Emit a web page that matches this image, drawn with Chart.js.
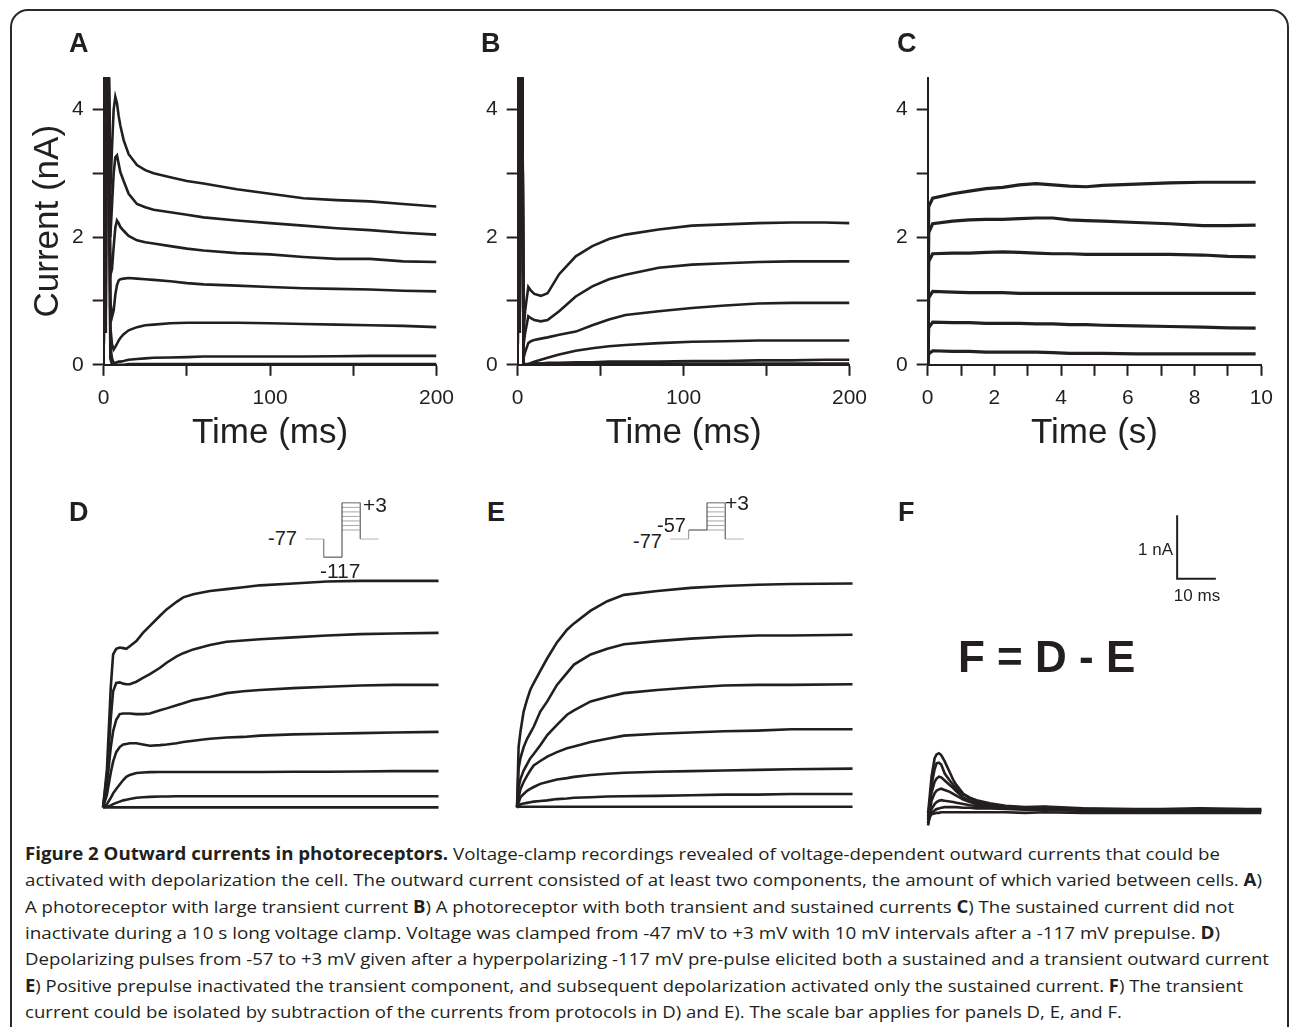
<!DOCTYPE html>
<html><head><meta charset="utf-8">
<script src="https://cdn.jsdelivr.net/npm/chart.js@4.4.1/dist/chart.umd.min.js"></script>
<style>
html,body{margin:0;padding:0;background:#fff;}
body{width:1290px;height:1027px;position:relative;overflow:hidden;}
.wrap{position:absolute;}
.wrap canvas{display:block;}
.txt{position:absolute;white-space:nowrap;color:#231f20;}
#frame{position:absolute;left:10px;top:9px;width:1279px;height:1200px;border:2px solid #2a2a2a;border-radius:18px;box-sizing:border-box;}
</style></head><body>
<div id="frame"></div>
<div id="stage"></div>
<script>
// ---------- DATA ----------
// Panel A: time (ms) and current (nA) of 7 traces
const tA = [0, 0.6, 1.3, 2.0, 2.6, 4, 5, 6, 7, 8, 9, 10, 12, 15, 20, 25, 30, 40, 50, 60, 80, 100, 120, 140, 160, 180, 200];
const A1 = [0, 6, 0.5, 6, 6, 2.7, 3.4, 4.0, 4.2, 4.1, 3.9, 3.75, 3.52, 3.3, 3.13, 3.05, 3.0, 2.94, 2.88, 2.84, 2.75, 2.68, 2.61, 2.58, 2.56, 2.52, 2.48];
const A2 = [0, 6, 1.3, 6, 6, 2.0, 2.5, 3.0, 3.25, 3.28, 3.15, 3.02, 2.88, 2.68, 2.52, 2.47, 2.43, 2.39, 2.35, 2.31, 2.26, 2.22, 2.18, 2.14, 2.11, 2.07, 2.04];
const A3 = [0, 6, 2.1, 6, 6, 1.4, 1.5, 1.85, 2.15, 2.26, 2.22, 2.16, 2.1, 2.02, 1.95, 1.92, 1.9, 1.86, 1.82, 1.79, 1.75, 1.73, 1.69, 1.66, 1.66, 1.62, 1.61];
const A4 = [0, 6, 2.9, 6, 6, 1.0, 0.75, 0.85, 1.1, 1.25, 1.32, 1.34, 1.35, 1.36, 1.35, 1.34, 1.33, 1.31, 1.28, 1.26, 1.24, 1.22, 1.20, 1.19, 1.18, 1.16, 1.15];
const A5 = [0, 6, 3.7, 6, 6, 0.6, 0.32, 0.24, 0.28, 0.33, 0.38, 0.42, 0.48, 0.54, 0.59, 0.62, 0.63, 0.65, 0.66, 0.66, 0.66, 0.65, 0.64, 0.63, 0.62, 0.61, 0.59];
const A6 = [0, 6, 0.9, 6, 6, 0.3, 0.1, 0.03, 0.03, 0.04, 0.05, 0.05, 0.06, 0.08, 0.09, 0.1, 0.11, 0.115, 0.12, 0.13, 0.13, 0.13, 0.13, 0.135, 0.14, 0.14, 0.14];
const A7 = [0, 6, 1.7, 6, 6, 0.1, 0.0, -0.02, 0.0, 0.0, 0.0, 0.0, 0.0, 0.01, 0.01, 0.01, 0.01, 0.01, 0.01, 0.01, 0.01, 0.01, 0.01, 0.01, 0.01, 0.01, 0.01];

// Panel B
const tB = [0, 0.6, 1.3, 2.0, 2.6, 3.5, 4.5, 6.4, 8, 10, 14, 18, 25, 35, 45, 55, 65, 85, 105, 125, 145, 165, 185, 200];
const B1 = [0, 6, 0.5, 6, 6, 0.5, 0.85, 1.22, 1.16, 1.11, 1.08, 1.12, 1.42, 1.70, 1.86, 1.97, 2.04, 2.12, 2.18, 2.20, 2.22, 2.23, 2.23, 2.22];
const B2 = [0, 6, 1.4, 6, 6, 0.3, 0.5, 0.76, 0.73, 0.70, 0.68, 0.70, 0.84, 1.07, 1.23, 1.34, 1.41, 1.52, 1.57, 1.59, 1.61, 1.62, 1.62, 1.62];
const B3 = [0, 6, 2.3, 6, 6, 0.1, 0.2, 0.34, 0.37, 0.39, 0.41, 0.43, 0.47, 0.52, 0.62, 0.71, 0.78, 0.84, 0.89, 0.93, 0.96, 0.97, 0.97, 0.97];
const B4 = [0, 6, 3.2, 6, 6, 0.0, 0.0, 0.01, 0.03, 0.05, 0.08, 0.11, 0.16, 0.22, 0.26, 0.29, 0.31, 0.34, 0.36, 0.37, 0.38, 0.38, 0.38, 0.38];
const B5 = [0, 6, 0.9, 6, 6, 0.0, 0.0, 0.0, 0.01, 0.02, 0.02, 0.03, 0.03, 0.04, 0.04, 0.05, 0.05, 0.05, 0.06, 0.06, 0.07, 0.07, 0.08, 0.08];
const B6 = [0, 6, 1.9, 6, 6, 0.0, 0.01, 0.01, 0.01, 0.02, 0.02, 0.02, 0.02, 0.02, 0.02, 0.02, 0.02, 0.02, 0.02, 0.02, 0.02, 0.02, 0.02, 0.02];

// Panel C: time (s)
const tC = [0, 0.03, 0.15, 0.75, 1.25, 1.75, 2.25, 2.75, 3.25, 3.75, 4.25, 4.75, 5.25, 6.25, 7.25, 8.25, 9.0, 9.83];
const C1 = [0, 2.48, 2.61, 2.68, 2.72, 2.76, 2.78, 2.82, 2.84, 2.82, 2.80, 2.79, 2.81, 2.83, 2.85, 2.86, 2.86, 2.86];
const C2 = [0, 2.07, 2.21, 2.25, 2.27, 2.28, 2.28, 2.29, 2.30, 2.30, 2.27, 2.26, 2.25, 2.23, 2.21, 2.18, 2.18, 2.19];
const C3 = [0, 1.62, 1.74, 1.75, 1.75, 1.76, 1.77, 1.76, 1.75, 1.74, 1.74, 1.73, 1.73, 1.73, 1.73, 1.72, 1.70, 1.69];
const C4 = [0, 1.05, 1.15, 1.14, 1.13, 1.13, 1.13, 1.12, 1.12, 1.12, 1.12, 1.12, 1.12, 1.12, 1.12, 1.12, 1.12, 1.12];
const C5 = [0, 0.58, 0.67, 0.66, 0.66, 0.65, 0.65, 0.65, 0.64, 0.64, 0.63, 0.63, 0.62, 0.61, 0.60, 0.59, 0.58, 0.575];
const C6 = [0, 0.17, 0.22, 0.21, 0.21, 0.20, 0.20, 0.20, 0.20, 0.19, 0.18, 0.18, 0.18, 0.17, 0.17, 0.17, 0.17, 0.17];

// Panel D (ms, nA)
const tD = [0, 1, 2, 2.6, 3.4, 4.3, 5.2, 6.0, 6.9, 8.6, 10.3, 12.1, 14.7, 16.4, 19.0, 20.7, 23.3, 25.9, 27.6, 31.9, 36.2, 40.5, 49.1, 57.8, 66.4, 75.0, 86.6];
const D1 = [0, 0.6, 1.9, 2.41, 2.5, 2.52, 2.51, 2.5, 2.54, 2.62, 2.75, 2.86, 3.02, 3.12, 3.24, 3.31, 3.36, 3.39, 3.41, 3.44, 3.47, 3.50, 3.53, 3.56, 3.57, 3.57, 3.57];
const D2 = [0, 0.5, 1.4, 1.83, 1.96, 1.97, 1.95, 1.94, 1.94, 1.98, 2.04, 2.10, 2.20, 2.28, 2.38, 2.43, 2.49, 2.53, 2.56, 2.61, 2.63, 2.65, 2.68, 2.71, 2.73, 2.74, 2.75];
const D3 = [0, 0.35, 0.95, 1.2, 1.38, 1.47, 1.48, 1.48, 1.48, 1.47, 1.47, 1.48, 1.53, 1.56, 1.61, 1.64, 1.69, 1.72, 1.74, 1.80, 1.83, 1.85, 1.88, 1.90, 1.92, 1.93, 1.93];
const D4 = [0, 0.2, 0.55, 0.72, 0.87, 0.95, 0.99, 1.0, 1.01, 1.01, 0.99, 0.97, 0.98, 0.99, 1.01, 1.03, 1.05, 1.07, 1.08, 1.10, 1.11, 1.13, 1.15, 1.16, 1.17, 1.18, 1.19];
const D5 = [0, 0.05, 0.15, 0.22, 0.29, 0.36, 0.43, 0.48, 0.51, 0.54, 0.55, 0.555, 0.556, 0.556, 0.556, 0.556, 0.556, 0.556, 0.556, 0.556, 0.556, 0.556, 0.56, 0.56, 0.565, 0.57, 0.57];
const D6 = [0, 0.01, 0.03, 0.05, 0.07, 0.09, 0.11, 0.12, 0.13, 0.15, 0.16, 0.165, 0.17, 0.17, 0.175, 0.175, 0.175, 0.175, 0.175, 0.175, 0.175, 0.175, 0.175, 0.175, 0.175, 0.175, 0.175];
const D7 = [0, 0, 0, 0, 0, 0, 0, 0, 0, 0, 0, 0, 0, 0, 0, 0, 0, 0, 0, 0, 0, 0, 0, 0, 0, 0, 0];

// Panel E
const tE = [0, 0.4, 0.9, 1.7, 2.6, 3.4, 4.3, 6.0, 7.8, 10.3, 12.9, 14.7, 19.0, 23.3, 27.6, 36.2, 44.8, 53.4, 62.1, 70.7, 86.6];
const E1 = [0, 0.95, 1.2, 1.51, 1.7, 1.85, 1.96, 2.15, 2.35, 2.6, 2.8, 2.9, 3.1, 3.25, 3.35, 3.41, 3.46, 3.49, 3.51, 3.52, 3.53];
const E2 = [0, 0.61, 0.78, 0.95, 1.08, 1.17, 1.27, 1.51, 1.67, 1.93, 2.12, 2.25, 2.41, 2.5, 2.57, 2.62, 2.66, 2.69, 2.71, 2.71, 2.72];
const E3 = [0, 0.32, 0.45, 0.58, 0.68, 0.77, 0.84, 0.98, 1.14, 1.3, 1.46, 1.53, 1.67, 1.74, 1.80, 1.85, 1.89, 1.92, 1.93, 1.93, 1.94];
const E4 = [0, 0.15, 0.29, 0.4, 0.5, 0.58, 0.66, 0.73, 0.8, 0.87, 0.93, 0.96, 1.03, 1.08, 1.13, 1.16, 1.18, 1.20, 1.21, 1.23, 1.23];
const E5 = [0, 0.08, 0.16, 0.21, 0.26, 0.29, 0.32, 0.37, 0.4, 0.44, 0.46, 0.48, 0.51, 0.53, 0.545, 0.56, 0.57, 0.58, 0.59, 0.60, 0.61];
const E6 = [0, 0.02, 0.05, 0.06, 0.07, 0.08, 0.09, 0.1, 0.11, 0.13, 0.14, 0.15, 0.16, 0.17, 0.175, 0.18, 0.19, 0.2, 0.2, 0.21, 0.21];
const E7 = [0, 0.01, 0.01, 0.01, 0.01, 0.01, 0.01, 0.01, 0.01, 0.01, 0.01, 0.01, 0.01, 0.01, 0.01, 0.01, 0.01, 0.01, 0.01, 0.01, 0.01];

// Panel F (D - E)
const tF = [0, 0.4, 0.9, 1.7, 2.2, 2.8, 3.4, 4.3, 5.6, 6.5, 7.3, 9.1, 10.8, 12.5, 15.9, 20, 25, 30, 40, 50, 60, 70, 80, 86];
const F1 = [-0.05, 0.2, 0.53, 0.82, 0.88, 0.90, 0.87, 0.77, 0.6, 0.48, 0.4, 0.26, 0.2, 0.16, 0.11, 0.07, 0.05, 0.06, 0.03, 0.02, 0.02, 0.03, 0.02, 0.02];
const F2 = [-0.1, 0.1, 0.4, 0.65, 0.74, 0.75, 0.72, 0.58, 0.47, 0.4, 0.34, 0.25, 0.19, 0.15, 0.1, 0.06, 0.04, 0.05, 0.02, 0.02, 0.01, 0.02, 0.02, 0.01];
const F3 = [-0.15, 0.05, 0.28, 0.45, 0.5, 0.53, 0.52, 0.47, 0.4, 0.35, 0.3, 0.2, 0.15, 0.12, 0.08, 0.05, 0.04, 0.04, 0.02, 0.01, 0.01, 0.02, 0.01, 0.01];
const F4 = [-0.2, -0.05, 0.15, 0.27, 0.31, 0.33, 0.34, 0.32, 0.29, 0.26, 0.23, 0.17, 0.13, 0.1, 0.07, 0.04, 0.03, 0.03, 0.02, 0.0, 0.0, 0.01, 0.0, 0.0];
const F5 = [-0.24, -0.1, 0.02, 0.1, 0.13, 0.15, 0.16, 0.15, 0.14, 0.13, 0.12, 0.1, 0.08, 0.07, 0.05, 0.03, 0.02, 0.02, 0.0, -0.01, -0.01, 0.0, -0.01, -0.01];
const F6 = [-0.2, -0.12, -0.05, 0.0, 0.02, 0.03, 0.04, 0.05, 0.05, 0.05, 0.05, 0.04, 0.04, 0.03, 0.03, 0.02, 0.01, 0.01, -0.01, -0.02, -0.02, -0.01, -0.02, -0.02];
const F7 = [-0.1, -0.08, -0.06, -0.05, -0.04, -0.04, -0.03, -0.03, -0.03, -0.03, -0.03, -0.03, -0.03, -0.03, -0.03, -0.03, -0.04, -0.03, -0.04, -0.04, -0.04, -0.04, -0.04, -0.04];

// Scale bar (applies to D, E, F)
const SCALE_BAR_MS = 10;
const SCALE_BAR_NA = 1;
const scaleBarAnchor = [64.3, 3.65]; // ms, nA (corner in panel F)

// Voltage protocols (mV)
const stepLevels = [-57, -47, -37, -27, -17, -7, 3];
const holdingPotential = -77;
const prepulseD = -117;
const prepulseE = -57;
const protocolSegments = [0, 1, 2, 3, 4];

// Tick labels
const xTicksMs = [0, 100, 200];
const xTicksS = [0, 2, 4, 6, 8, 10];
const yTicksNa = [0, 2, 4];

// ---------- RENDER ----------
const FONT = '"Liberation Sans", Arial, Helvetica, sans-serif';
const CAPFONT = '"Open Sans", "Noto Sans", sans-serif';
const INK = '#231f20';
Chart.defaults.font.family = FONT;
Chart.defaults.color = INK;

function pts(t, v) { return t.map((x, i) => ({x: x, y: v[i]})); }
function traces(t, series, w) {
  return series.map(v => ({data: pts(t, v), borderColor: INK, borderWidth: w, pointRadius: 0, tension: 0, fill: false}));
}

function makeChart(area, config) {
  const wrap = document.createElement('div'); wrap.className = 'wrap';
  const cv = document.createElement('canvas');
  cv.width = Math.round(area.w + 160); cv.height = Math.round(area.h + 160);
  wrap.appendChild(cv); document.getElementById('stage').appendChild(wrap);
  config.options = Object.assign({
    responsive: false, maintainAspectRatio: false, animation: false, events: [],
    layout: {padding: 0},
    plugins: {legend: {display: false}, tooltip: {enabled: false}, title: {display: false}}
  }, config.options);
  const chart = new Chart(cv, config);
  for (let k = 0; k < 3; k++) {
    const ca = chart.chartArea;
    const mL = ca.left, mT = ca.top, mR = chart.width - ca.right, mB = chart.height - ca.bottom;
    const W = Math.round(area.w + mL + mR), H = Math.round(area.h + mT + mB);
    if (W !== chart.width || H !== chart.height) chart.resize(W, H);
  }
  const ca = chart.chartArea;
  wrap.style.left = (area.x - ca.left) + 'px';
  wrap.style.top = (area.y - ca.top) + 'px';
  return chart;
}

function gridOpts() {
  return {display: true, drawOnChartArea: false, drawTicks: true, tickLength: 11, tickWidth: 2, tickColor: INK};
}
function axisScales(xMax, xStep, xLabels, xTitle, yTitle) {
  return {
    x: {type: 'linear', min: 0, max: xMax,
        grid: gridOpts(), border: {display: true, color: INK, width: 2},
        ticks: {stepSize: xStep, includeBounds: false, autoSkip: false, maxRotation: 0, color: INK,
                font: {family: FONT, size: 21}, padding: 10,
                callback: v => (xLabels.some(l => Math.abs(l - v) < 1e-6) ? String(v) : '')},
        title: {display: true, text: xTitle, color: INK, font: {family: FONT, size: 35}, padding: {top: -9, bottom: 0}}},
    y: {type: 'linear', min: 0, max: 4.5,
        grid: gridOpts(), border: {display: true, color: INK, width: 2},
        ticks: {stepSize: 1, includeBounds: false, autoSkip: false, color: INK,
                font: {family: FONT, size: 21}, padding: 9,
                callback: v => (yTicksNa.indexOf(v) >= 0 ? String(v) : '')},
        title: {display: !!yTitle, text: yTitle || '', color: INK, font: {family: FONT, size: 35}, padding: {top: 0, bottom: -6}}}
  };
}
function hiddenScales(x0, x1, y0, y1) {
  return {x: {type: 'linear', display: false, min: x0, max: x1}, y: {type: 'linear', display: false, min: y0, max: y1}};
}

// Top row panels (chart areas in page pixels)
makeChart({x: 104, y: 78, w: 333, h: 287}, {type: 'line',
  data: {datasets: traces(tA, [A1, A2, A3, A4, A5, A6, A7], 2.6)},
  options: {scales: axisScales(200, 50, xTicksMs, 'Time (ms)', 'Current (nA)')}});
makeChart({x: 518, y: 78, w: 332, h: 287}, {type: 'line',
  data: {datasets: traces(tB, [B1, B2, B3, B4, B5, B6], 2.6)},
  options: {scales: axisScales(200, 50, xTicksMs, 'Time (ms)', null)}});
makeChart({x: 928, y: 78, w: 334, h: 287}, {type: 'line',
  data: {datasets: traces(tC, [C1, C2, C3, C4, C5, C6], 3.2)},
  options: {scales: axisScales(10, 1, xTicksS, 'Time (s)', null)}});

// Bottom row: common scale 3.87 px/ms, 63.5 px/nA
const PXMS = 3.87, PXNA = 63.5;
function bottomArea(x0, y0, xmin, xmax, ymin, ymax) {
  return {x: x0 + xmin * PXMS, y: y0 - ymax * PXNA, w: (xmax - xmin) * PXMS, h: (ymax - ymin) * PXNA};
}
makeChart(bottomArea(103.3, 808, -2, 90, -0.4, 3.8), {type: 'line',
  data: {datasets: traces(tD, [D1, D2, D3, D4, D5, D6, D7], 2.6)},
  options: {scales: hiddenScales(-2, 90, -0.4, 3.8)}});
makeChart(bottomArea(516.7, 808, -2, 90, -0.4, 3.8), {type: 'line',
  data: {datasets: traces(tE, [E1, E2, E3, E4, E5, E6, E7], 2.6)},
  options: {scales: hiddenScales(-2, 90, -0.4, 3.8)}});
const scaleBarSet = {data: [
    {x: scaleBarAnchor[0], y: scaleBarAnchor[1] + SCALE_BAR_NA},
    {x: scaleBarAnchor[0], y: scaleBarAnchor[1]},
    {x: scaleBarAnchor[0] + SCALE_BAR_MS, y: scaleBarAnchor[1]}],
  borderColor: INK, borderWidth: 2, pointRadius: 0, tension: 0, fill: false, borderCapStyle: 'butt', borderJoinStyle: 'miter'};
makeChart(bottomArea(928.3, 810, -2, 90, -0.4, 4.9), {type: 'line',
  data: {datasets: traces(tF, [F1, F2, F3, F4, F5, F6, F7], 2.6).concat([scaleBarSet])},
  options: {scales: hiddenScales(-2, 90, -0.4, 4.9)}});

// Voltage protocol insets: 18.25 px per segment, 0.45 px per mV
const PXSEG = 18.25, PXMV = 0.45;
function protoArea(x0, yHold) {
  return {x: x0 - 0.1 * PXSEG, y: yHold - (6 - holdingPotential) * PXMV, w: 4.2 * PXSEG, h: 126 * PXMV};
}
function protoSets(pre) {
  const s = protocolSegments;
  const line = (d, c, w) => ({data: d, borderColor: c, borderWidth: w || 1, pointRadius: 0, tension: 0, fill: false});
  const sets = [];
  sets.push(line([{x: s[0], y: holdingPotential}, {x: s[1], y: holdingPotential}], '#b4b4b4'));
  sets.push(line([{x: s[1], y: holdingPotential}, {x: s[1], y: pre}], '#8c8c8c'));
  sets.push(line([{x: s[1], y: pre}, {x: s[2], y: pre}, {x: s[2], y: stepLevels[stepLevels.length - 1]}], '#3c3c3c'));
  stepLevels.forEach((L, i) => sets.push(line([{x: s[2], y: L}, {x: s[3], y: L}], i === stepLevels.length - 1 ? '#6a6a6a' : '#a8a8a8')));
  sets.push(line([{x: s[3], y: stepLevels[stepLevels.length - 1]}, {x: s[3], y: holdingPotential}], '#7a7a7a'));
  sets.push(line([{x: s[3], y: holdingPotential}, {x: s[4], y: holdingPotential}], '#b4b4b4'));
  return sets;
}
makeChart(protoArea(305, 539), {type: 'line', data: {datasets: protoSets(prepulseD)},
  options: {scales: hiddenScales(-0.1, 4.1, -120, 6)}});
makeChart(protoArea(670, 539), {type: 'line', data: {datasets: protoSets(prepulseE)},
  options: {scales: hiddenScales(-0.1, 4.1, -120, 6)}});

// ---------- TEXT ----------
const mctx = document.createElement('canvas').getContext('2d');
function addText(html, x, base, size, o) {
  o = o || {};
  const fam = o.family || FONT;
  const el = document.createElement('div'); el.className = 'txt';
  el.innerHTML = html;
  el.style.fontFamily = fam; el.style.fontSize = size + 'px'; el.style.lineHeight = size + 'px';
  el.style.fontWeight = o.bold ? 'bold' : 'normal';
  mctx.font = (o.bold ? 'bold ' : '') + size + 'px ' + fam;
  const m = mctx.measureText('Hg');
  const asc = m.fontBoundingBoxAscent, desc = m.fontBoundingBoxDescent;
  const fromTop = (size - (asc + desc)) / 2 + asc;
  el.style.top = (base - fromTop) + 'px';
  document.body.appendChild(el);
  const w = el.getBoundingClientRect().width;
  if (o.width) { el.style.left = x + 'px'; el.style.transformOrigin = '0 0'; el.style.transform = 'scaleX(' + (o.width / w) + ')'; }
  else if (o.align === 'right') el.style.left = (x - w) + 'px';
  else if (o.align === 'center') el.style.left = (x - w / 2) + 'px';
  else el.style.left = x + 'px';
  return el;
}
// panel letters
[['A', 69, 52], ['B', 481, 52], ['C', 897, 52], ['D', 69, 521], ['E', 487, 521], ['F', 898, 521]]
  .forEach(p => addText(p[0], p[1], p[2], 27, {bold: true}));
// protocol labels
addText('-77', 268, 545, 20); addText('+3', 363, 512, 21); addText('-117', 320, 578, 21);
addText('-77', 633, 548, 20); addText('-57', 657, 532, 20); addText('+3', 725, 510, 21);
// scale bar labels
addText('1 nA', 1173, 555, 17, {align: 'right'});
addText('10 ms', 1197, 601, 17, {align: 'center'});
addText('F = D - E', 958, 672, 44, {bold: true});

// caption
const captionLines = [
  ['<b>Figure 2 Outward currents in photoreceptors.</b> Voltage-clamp recordings revealed of voltage-dependent outward currents that could be', 1220],
  ['activated with depolarization the cell. The outward current consisted of at least two components, the amount of which varied between cells. <b>A</b>)', 1262],
  ['A photoreceptor with large transient current <b>B</b>) A photoreceptor with both transient and sustained currents <b>C</b>) The sustained current did not', 1234],
  ['inactivate during a 10 s long voltage clamp. Voltage was clamped from -47 mV to +3 mV with 10 mV intervals after a -117 mV prepulse. <b>D</b>)', 1220],
  ['Depolarizing pulses from -57 to +3 mV given after a hyperpolarizing -117 mV pre-pulse elicited both a sustained and a transient outward current', 1269],
  ['<b>E</b>) Positive prepulse inactivated the transient component, and subsequent depolarization activated only the sustained current. <b>F</b>) The transient', 1243],
  ['current could be isolated by subtraction of the currents from protocols in D) and E). The scale bar applies for panels D, E, and F.', 1122]
];
captionLines.forEach((l, i) => addText(l[0], 25, 860 + 26.3 * i, 17, {family: CAPFONT, width: l[1] - 25}));
</script>
</body></html>
